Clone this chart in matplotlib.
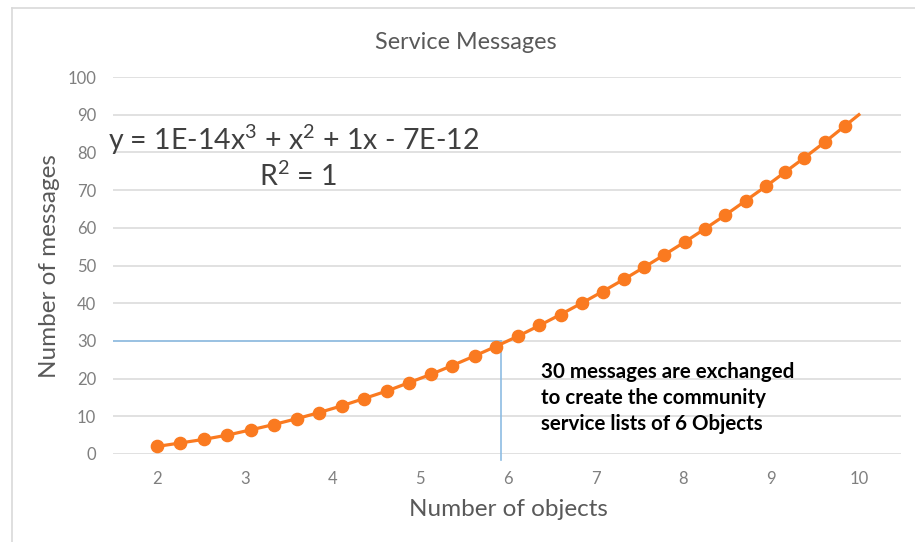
import matplotlib
matplotlib.use("Agg")
import matplotlib.pyplot as plt
from matplotlib.lines import Line2D

plt.rcParams['font.family'] = ['Lato', 'DejaVu Sans']
plt.rcParams['mathtext.fontset'] = 'custom'
plt.rcParams['mathtext.rm'] = 'Lato'

# data (x in axis label units)
objects = [2.00, 2.26, 2.54, 2.80, 3.07, 3.33, 3.60, 3.85, 4.11, 4.36, 4.62,
           4.87, 5.12, 5.36, 5.62, 5.86, 6.12, 6.36, 6.60, 6.84, 7.08, 7.32,
           7.55, 7.78, 8.02, 8.25, 8.48, 8.71, 8.94, 9.16, 9.38, 9.61, 9.84]
messages = [2.0, 2.9, 3.9, 5.0, 6.4, 7.8, 9.4, 11.0, 12.8, 14.7, 16.7,
            18.9, 21.1, 23.4, 26.0, 28.5, 31.3, 34.1, 37.0, 40.0, 43.1, 46.3,
            49.5, 52.8, 56.3, 59.8, 63.4, 67.2, 71.0, 74.8, 78.6, 82.7, 87.0]
# trendline runs on to the end of the axis
trend_end_x = 10.0
trend_end_y = 90.0
# marker lines for the 30 message example
mark_x = 5.92
mark_y = 30

x_ticks = [2, 3, 4, 5, 6, 7, 8, 9, 10]
y_ticks = list(range(0, 101, 10))

orange = '#FA7A20'
blue = '#8DBCE3'
grey_text = '#595959'
tick_grey = '#7F7F7F'

W, H = 915, 542
fig = plt.figure(figsize=(W / 100, H / 100), dpi=100)
fig.patch.set_facecolor('white')

ax = fig.add_axes([113 / W, 1 - 454 / H, 788 / W, 377 / H])
ax.set_xlim(1.5, 10.48)
ax.set_ylim(0, 100)

for s in ax.spines.values():
    s.set_visible(False)
ax.set_yticks(y_ticks)
ax.set_xticks(x_ticks)
ax.tick_params(length=0, labelsize=12, labelcolor=tick_grey)
ax.tick_params(axis='y', pad=12)
ax.tick_params(axis='x', pad=12)
ax.grid(axis='y', color='#D9D9D9', lw=1.1)
ax.set_axisbelow(True)

# marker lines
ax.plot([1.5, mark_x], [mark_y, mark_y], color=blue, lw=1.2, zorder=2)
ax.plot([mark_x, mark_x], [mark_y, -1.6], color=blue, lw=1.2, zorder=2, clip_on=False)

# series with trendline
ax.plot(objects + [trend_end_x], messages + [trend_end_y], color=orange, lw=2.3, zorder=3)
ax.plot(objects, messages, 'o', color=orange, ms=8.8, zorder=4)

# texts
fig.text(466 / W, 1 - 42 / H, 'Service Messages', ha='center', va='center',
         fontsize=16.8, color=grey_text)
fig.text(50 / W, 1 - 266 / H, 'Number of messages', rotation=90, ha='center', va='center',
         fontsize=17.5, color=grey_text)
fig.text(508 / W, 1 - 510 / H, 'Number of objects', ha='center', va='center',
         fontsize=17.5, color=grey_text)

fig.text(108 / W, 1 - 140 / H, r'y = 1E-14$\mathregular{x^3}$ + $\mathregular{x^2}$ + 1x - 7E-12',
         ha='left', va='center', fontsize=20.5, color='#404040')
fig.text(298 / W, 1 - 176 / H, r'$\mathregular{R^2}$ = 1', ha='center', va='center',
         fontsize=20.5, color='#404040')

fig.text(541 / W, 1 - 398 / H,
         '30 messages are exchanged\nto create the community\nservice lists of 6 Objects',
         ha='left', va='center', fontsize=14.8, fontweight='bold', color='black',
         linespacing=1.36)

# chart frame (left and top edges visible)
fig.add_artist(Line2D([12 / W, 12 / W], [0, 1 - 8 / H], transform=fig.transFigure,
                      color='#D9D9D9', lw=1.2))
fig.add_artist(Line2D([12 / W, 1], [1 - 8 / H, 1 - 8 / H], transform=fig.transFigure,
                      color='#D9D9D9', lw=1.2))

fig.savefig('out.png', dpi=100)
